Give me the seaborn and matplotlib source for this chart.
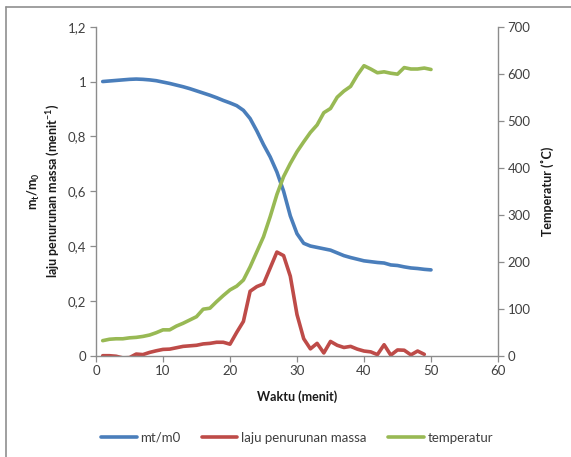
import matplotlib
matplotlib.use("Agg")
import matplotlib.pyplot as plt
from matplotlib.lines import Line2D
from matplotlib.ticker import FixedLocator, FuncFormatter
import numpy as np
import pandas as pd
import seaborn as sns

# Time (minutes)
waktu = list(range(1, 51))

# Mass ratio m_t/m_0
mt_m0 = [1.000, 1.002, 1.004, 1.006, 1.008, 1.009, 1.008, 1.006, 1.003, 0.998,
         0.993, 0.987, 0.981, 0.974, 0.966, 0.958, 0.950, 0.941, 0.931, 0.922,
         0.912, 0.895, 0.865, 0.820, 0.770, 0.725, 0.670, 0.600, 0.510, 0.445,
         0.410, 0.400, 0.395, 0.390, 0.385, 0.375, 0.365, 0.358, 0.352, 0.346,
         0.343, 0.340, 0.338, 0.331, 0.329, 0.324, 0.320, 0.318, 0.315, 0.313]

# Mass loss rate (1/min), measured up to minute 49
waktu_laju = list(range(1, 50))
laju = [0.000, 0.000, -0.002, -0.008, -0.007, 0.006, 0.004, 0.012, 0.018, 0.023,
        0.024, 0.029, 0.034, 0.036, 0.038, 0.043, 0.045, 0.049, 0.049, 0.042,
        0.085, 0.125, 0.235, 0.252, 0.262, 0.320, 0.378, 0.365, 0.290, 0.150,
        0.062, 0.025, 0.045, 0.010, 0.052, 0.038, 0.030, 0.034, 0.024, 0.017,
        0.014, 0.004, 0.040, 0.002, 0.021, 0.020, 0.003, 0.017, 0.005]

# Temperature (deg C)
temperatur = [32, 35, 36, 36, 38, 39, 41, 44, 49, 55,
              55, 63, 69, 76, 83, 99, 101, 115, 128, 140,
              148, 161, 189, 221, 253, 296, 343, 381, 409, 434,
              455, 475, 491, 517, 526, 550, 563, 573, 597, 617,
              610, 602, 604, 601, 599, 613, 610, 610, 612, 609]

x_ticks = [0, 10, 20, 30, 40, 50, 60]
y_ticks = [0, 0.2, 0.4, 0.6, 0.8, 1.0, 1.2]
y2_ticks = [0, 100, 200, 300, 400, 500, 600, 700]

sns.set_theme(style="white")
plt.rcParams["font.family"] = ["Lato", "DejaVu Sans"]
plt.rcParams["mathtext.default"] = "regular"

W, H = 571, 457
fig = plt.figure(figsize=(W / 100, H / 100), dpi=100)
ax = fig.add_axes([96 / W, 1 - 355.7 / H, (498 - 96) / W, (355.7 - 26.7) / H])
ax2 = ax.twinx()

blue, red, green = "#4A7EBB", "#BE4B48", "#98B954"
lw = 2.6

df_m = pd.DataFrame({"waktu": waktu, "mt_m0": mt_m0, "temperatur": temperatur})
df_l = pd.DataFrame({"waktu": waktu_laju, "laju": laju})

sns.lineplot(data=df_m, x="waktu", y="mt_m0", ax=ax, color=blue, lw=lw,
             label="mt/m0", legend=False, solid_joinstyle="round", solid_capstyle="round")
sns.lineplot(data=df_l, x="waktu", y="laju", ax=ax, color=red, lw=lw,
             label="laju penurunan massa", legend=False,
             solid_joinstyle="round", solid_capstyle="round")
sns.lineplot(data=df_m, x="waktu", y="temperatur", ax=ax2, color=green, lw=lw,
             label="temperatur", legend=False,
             solid_joinstyle="round", solid_capstyle="round")

ax.set_xlim(0, 60)
ax.set_ylim(0, 1.2)
ax2.set_ylim(0, 700)
ax.xaxis.set_major_locator(FixedLocator(x_ticks))
ax.yaxis.set_major_locator(FixedLocator(y_ticks))
ax2.yaxis.set_major_locator(FixedLocator(y2_ticks))
ax.yaxis.set_major_formatter(FuncFormatter(lambda v, p: f"{v:g}".replace(".", ",")))

ax.grid(False)
ax2.grid(False)
spine_c = "#8C8C8C"
for a in (ax, ax2):
    for s in a.spines.values():
        s.set_visible(False)
ax.spines["left"].set_visible(True)
ax.spines["bottom"].set_visible(True)
ax2.spines["right"].set_visible(True)
for s in (ax.spines["left"], ax.spines["bottom"], ax2.spines["right"]):
    s.set_color(spine_c)
    s.set_linewidth(1.0)

tick_kw = dict(direction="out", length=4, width=0.9, color=spine_c,
               labelcolor="#404040", labelsize=9.5, pad=3)
ax.tick_params(axis="x", bottom=True, **tick_kw)
ax.tick_params(axis="y", left=True, **tick_kw)
ax2.tick_params(axis="y", right=True, **tick_kw)

ax.set_xlabel("Waktu (menit)", fontsize=9, fontweight="bold", color="#1a1a1a", labelpad=9)
ax.set_ylabel("m$_t$/m$_0$\nlaju penurunan massa (menit$^{-1}$)", fontsize=9,
              fontweight="bold", color="#1a1a1a", labelpad=4, linespacing=1.25)
ax2.set_ylabel("Temperatur (˚C)", fontsize=9, fontweight="bold", color="#1a1a1a",
               rotation=90, labelpad=7)

handles = [Line2D([], [], color=blue, lw=lw),
           Line2D([], [], color=red, lw=lw),
           Line2D([], [], color=green, lw=lw)]
fig.legend(handles, ["mt/m0", "laju penurunan massa", "temperatur"],
           loc="center", bbox_to_anchor=(297 / W, 1 - 438 / H), ncol=3,
           frameon=False, fontsize=9.5, handlelength=2.7, handletextpad=0.3,
           columnspacing=1.6, labelcolor="#404040")

# Outer chart frame
frame_c = "#8F8F8F"
fig.add_artist(Line2D([6 / W, 6 / W], [1 - 7 / H, 0], transform=fig.transFigure,
                      color=frame_c, lw=1.2))
fig.add_artist(Line2D([6 / W, 1], [1 - 7 / H, 1 - 7 / H], transform=fig.transFigure,
                      color=frame_c, lw=1.2))

fig.savefig("out.png", dpi=100, facecolor="white")
